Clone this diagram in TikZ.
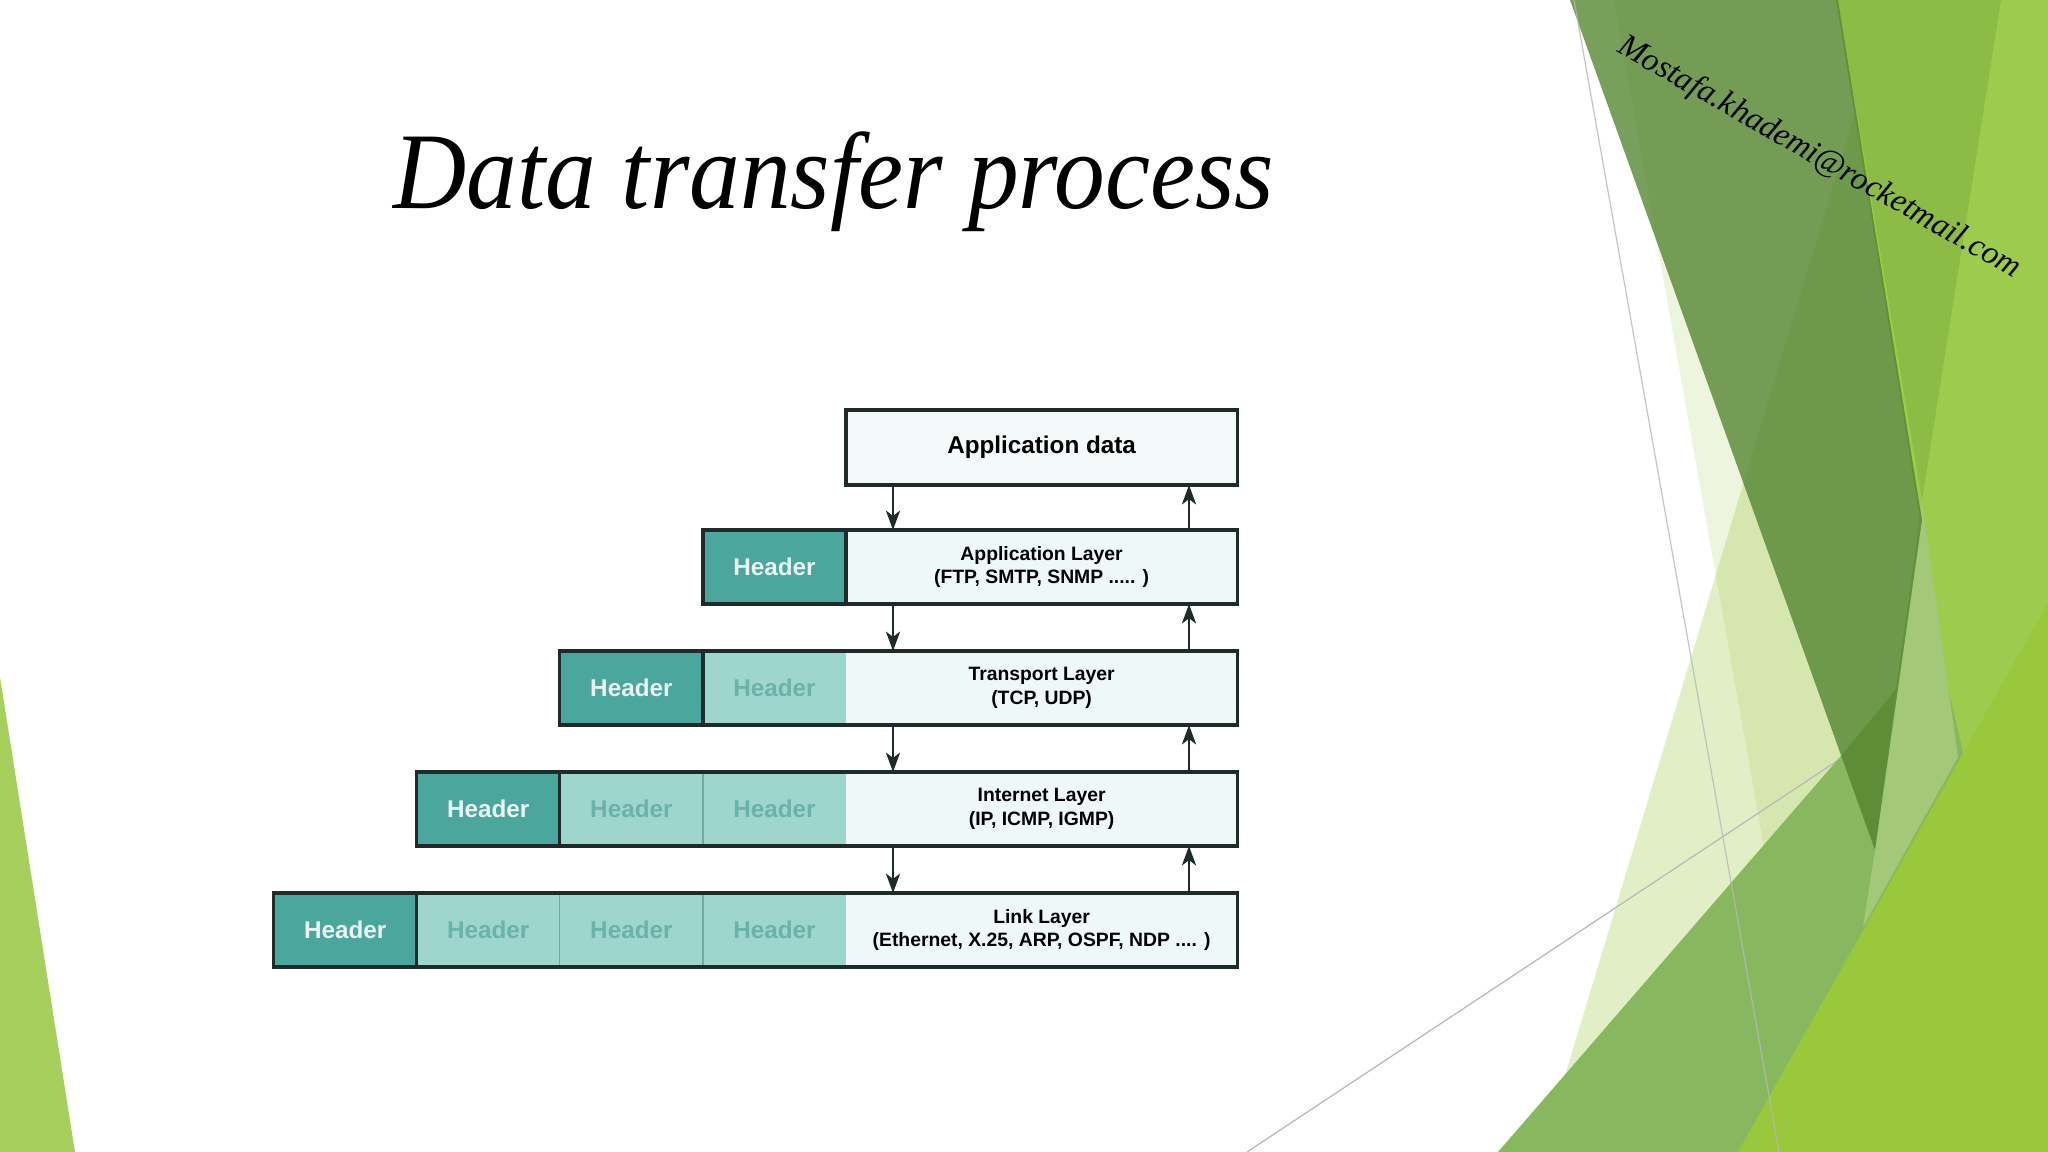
\documentclass[tikz,border=0pt]{standalone}
\usepackage{fontspec}
\setmainfont{Liberation Serif}
\newfontfamily\diagsans{Liberation Sans}
\usetikzlibrary{positioning,arrows.meta}

\definecolor{hdfill}{HTML}{4BA69D}
\definecolor{hdtext}{HTML}{EAF5F3}
\definecolor{hlfill}{HTML}{9ED6CE}
\definecolor{hltext}{HTML}{6AB3A9}
\definecolor{hlline}{HTML}{6FA9A1}
\definecolor{datafill}{HTML}{EFF8F8}
\definecolor{appfill}{HTML}{F4FAFA}
\definecolor{boxline}{HTML}{1E2B29}
\definecolor{leafgreen}{HTML}{90C226}
\definecolor{olive}{HTML}{50812B}
\definecolor{fband}{HTML}{87B85F}
\definecolor{palemed}{HTML}{A3C878}
\definecolor{midgreen}{HTML}{8CBB46}
\definecolor{limetop}{HTML}{9DCB4E}
\definecolor{limelow}{HTML}{9AC83C}
\definecolor{sliver}{HTML}{A7CF5B}
\definecolor{hair}{HTML}{B8B8B8}

\newcommand\hdfont{\diagsans\bfseries\fontsize{6.9}{8}\selectfont}
\newcommand\layerfont{\diagsans\bfseries\fontsize{5.5}{6.8}\selectfont}

\tikzset{
  cell/.style={minimum width=1.43cm, minimum height=.74cm, inner sep=0pt, outer sep=0pt, anchor=north west},
  hdark/.style={cell, fill=hdfill, text=hdtext, font=\hdfont},
  hlight/.style={cell, fill=hlfill, text=hltext, font=\hdfont},
  payload/.style={cell, minimum width=3.91cm, fill=datafill, align=center, font=\layerfont},
  rowline/.style={draw=boxline, line width=.9pt},
  sepline/.style={draw=hlline, line width=.35pt},
  updown/.style={-{Stealth[length=5.5pt,width=4pt,inset=1.5pt]}, draw=boxline, line width=.7pt},
  hairline/.style={draw=hair, line width=.35pt}
}

\begin{document}
\begin{tikzpicture}[x=0.01cm, y=-0.01cm]
\fill[white] (0,0) rectangle (2048,1152);
\useasboundingbox (0,0) rectangle (2048,1152);

\fill[sliver] (0,677) -- (75,1152) -- (0,1152) -- cycle;
\fill[leafgreen, opacity=.15] (1614,0) -- (1838,0) -- (1922,520) -- (1875,850) -- (1791,1000) -- cycle;
\fill[leafgreen, opacity=.26] (1889,0) -- (1922,520) -- (1875,850) -- (1700,1152) -- (1542,1152) -- cycle;
\draw[hairline] (1247,1152) -- (1840,759);
\fill[limetop] (1836,0) -- (2048,0) -- (2048,1152) -- (1700,1152) -- (1873,850) -- (1920,520) -- cycle;
\fill[fband] (1498,1152) -- (1840,757) -- (1937,640) -- (1964,757) -- (1746,1152) -- cycle;
\fill[palemed] (1922,500) -- (1958,757) -- (1863,927) -- (1875,850) -- cycle;
\fill[midgreen] (1838,0) -- (2001,0) -- (1922,500) -- cycle;
\fill[limelow] (2048,603) -- (2048,1152) -- (1738,1152) -- cycle;
\fill[olive, opacity=.76] (1570,0) -- (1838,0) -- (1922,520) -- (1875,850) -- cycle;
\draw[hairline, opacity=.8] (1574,0) -- (1779,1152);

\node[anchor=base, font=\fontsize{31}{36}\selectfont\itshape, xscale=.93, transform shape] (title) at (834,209) {Data transfer process};
\node[anchor=base, rotate=-29.6, font=\fontsize{9.3}{11}\selectfont\itshape] (mail) at (1815,165) {Mostafa.khademi@rocketmail.com};

\node[payload, fill=appfill, font=\hdfont, minimum height=.75cm] (appdata) at (846,410) {Application data};

\node[payload] (applay) at (846,530) {Application Layer\\(FTP, SMTP, SNMP ..... )};
\node[hdark, left=0pt of applay] (apphd) {Header};

\node[payload] (tralay) at (846,651) {Transport Layer\\(TCP, UDP)};
\node[hlight, left=0pt of tralay] (trah1) {Header};
\node[hdark, left=0pt of trah1] (trahd) {Header};

\node[payload] (netlay) at (846,772) {Internet Layer\\(IP, ICMP, IGMP)};
\node[hlight, left=0pt of netlay] (neth1) {Header};
\node[hlight, left=0pt of neth1] (neth2) {Header};
\node[hdark, left=0pt of neth2] (nethd) {Header};

\node[payload] (lnklay) at (846,893) {Link Layer\\(Ethernet, X.25, ARP, OSPF, NDP .... )};
\node[hlight, left=0pt of lnklay] (lnkh1) {Header};
\node[hlight, left=0pt of lnkh1] (lnkh2) {Header};
\node[hlight, left=0pt of lnkh2] (lnkh3) {Header};
\node[hdark, left=0pt of lnkh3] (lnkhd) {Header};

\draw[sepline] (neth2.north east) -- (neth2.south east);
\draw[sepline] (lnkh2.north east) -- (lnkh2.south east);
\draw[sepline] (lnkh3.north east) -- (lnkh3.south east);

\draw[rowline] (appdata.north west) rectangle (appdata.south east);
\draw[rowline] (apphd.north west) rectangle (applay.south east);
\draw[rowline] (trahd.north west) rectangle (tralay.south east);
\draw[rowline] (nethd.north west) rectangle (netlay.south east);
\draw[rowline] (lnkhd.north west) rectangle (lnklay.south east);
\draw[rowline] (apphd.north east) -- (apphd.south east);
\draw[rowline] (trahd.north east) -- (trahd.south east);
\draw[rowline] (nethd.north east) -- (nethd.south east);
\draw[rowline] (lnkhd.north east) -- (lnkhd.south east);

\coordinate (dn) at (893,0);
\coordinate (up) at (1189,0);
\draw[updown] (appdata.south -| dn) -- (applay.north -| dn);
\draw[updown] (applay.south -| dn) -- (tralay.north -| dn);
\draw[updown] (tralay.south -| dn) -- (netlay.north -| dn);
\draw[updown] (netlay.south -| dn) -- (lnklay.north -| dn);
\draw[updown] (applay.north -| up) -- (appdata.south -| up);
\draw[updown] (tralay.north -| up) -- (applay.south -| up);
\draw[updown] (netlay.north -| up) -- (tralay.south -| up);
\draw[updown] (lnklay.north -| up) -- (netlay.south -| up);

\end{tikzpicture}
\end{document}
